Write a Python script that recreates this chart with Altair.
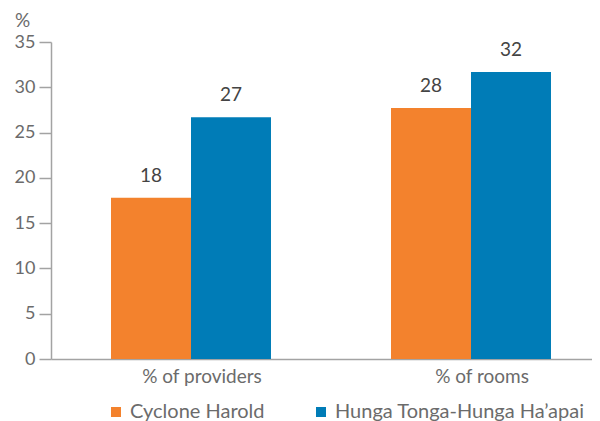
import altair as alt
import pandas as pd

categories = ["% of providers", "% of rooms"]
series = ["Cyclone Harold", "Hunga Tonga-Hunga Ha\u2019apai"]
cyclone_values = [17.8, 27.7]
hunga_values = [26.7, 31.7]
cyclone_labels = ["18", "28"]
hunga_labels = ["27", "32"]
y_ticks = [0, 5, 10, 15, 20, 25, 30, 35]
colors = ["#F3822D", "#007CB7"]

rows = []
for i, c in enumerate(categories):
    rows.append({"category": c, "series": series[0], "value": cyclone_values[i], "label": cyclone_labels[i]})
    rows.append({"category": c, "series": series[1], "value": hunga_values[i], "label": hunga_labels[i]})
df = pd.DataFrame(rows)

FONT = "Lato"
AXIS_GRAY = "#a3a3a3"
LABEL_GRAY = "#6b6b6b"

base = alt.Chart(df).encode(
    x=alt.X(
        "category:N",
        sort=categories,
        scale=alt.Scale(range=[0, 560], paddingInner=0.4286, paddingOuter=0.2143),
        axis=alt.Axis(
            title=None, labelAngle=0, ticks=False, domainColor=AXIS_GRAY, domainWidth=1.5,
            labelFontSize=19, labelColor=LABEL_GRAY, labelFont=FONT, labelPadding=8,
            labelOffset=11, labelBaseline="top",
        ),
    ),
    xOffset=alt.XOffset("series:N", sort=series, scale=alt.Scale(paddingInner=0, paddingOuter=0)),
    y=alt.Y(
        "value:Q",
        scale=alt.Scale(domain=[0, 35], nice=False),
        axis=alt.Axis(
            values=y_ticks, grid=False, title="%", titleAngle=0, titleX=-29, titleY=-22,
            titleBaseline="middle", titleAlign="center", titleFontSize=19, titleFont=FONT,
            titleFontWeight="normal", titleColor=LABEL_GRAY,
            tickSize=12, tickColor=AXIS_GRAY, tickWidth=1.5, domainColor=AXIS_GRAY, domainWidth=1.5,
            labelPadding=4, labelFontSize=18, labelFont=FONT, labelColor=LABEL_GRAY,
        ),
    ),
)

bars = base.mark_bar().encode(
    color=alt.Color(
        "series:N",
        sort=series,
        scale=alt.Scale(domain=series, range=colors),
        legend=alt.Legend(
            title=None, orient="none", legendX=55, legendY=360, direction="horizontal",
            symbolType="square", symbolSize=100, symbolStrokeWidth=0, labelFontSize=20,
            labelFont=FONT, labelColor=LABEL_GRAY, labelOffset=4, columnPadding=46, padding=0,
            labelLimit=400,
        ),
    )
)

texts = base.mark_text(baseline="bottom", dy=-12, fontSize=19, font=FONT, color="#444444").encode(
    text="label:N"
)

chart = (
    alt.layer(bars, texts)
    .properties(
        width=541,
        height=317,
        autosize=alt.AutoSizeParams(type="none"),
        padding={"left": 43, "top": 34, "right": 0, "bottom": 62},
        background="white",
    )
    .configure_view(stroke=None)
)

chart.save("out.html", embed_options={"renderer": "svg", "actions": False})
